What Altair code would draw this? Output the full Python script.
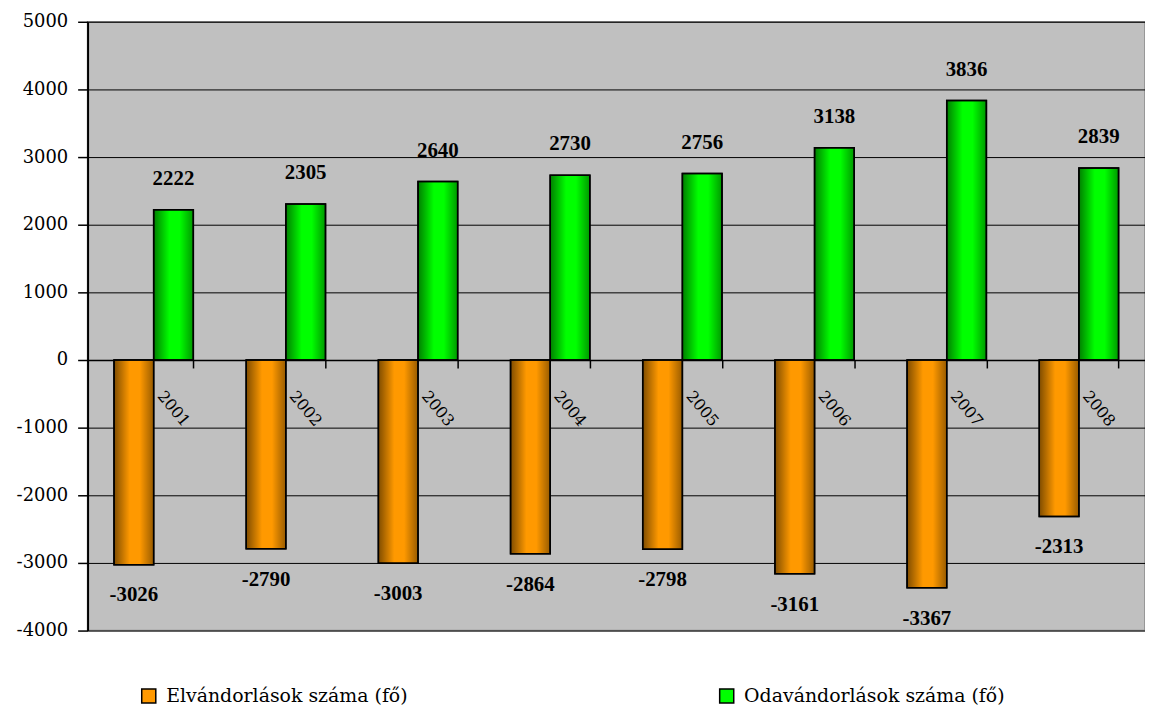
import altair as alt
import pandas as pd

years = ["2001", "2002", "2003", "2004", "2005", "2006", "2007", "2008"]
elvandorlas = [-3026, -2790, -3003, -2864, -2798, -3161, -3367, -2313]
odavandorlas = [2222, 2305, 2640, 2730, 2756, 3138, 3836, 2839]
series_names = ["Elvándorlások száma (fő)", "Odavándorlások száma (fő)"]
series_colors = ["#FF9900", "#00FF00"]
y_ticks = [-4000, -3000, -2000, -1000, 0, 1000, 2000, 3000, 4000, 5000]

rows = []
for i, yr in enumerate(years):
    rows.append({"year": yr, "series": series_names[0], "value": elvandorlas[i]})
    rows.append({"year": yr, "series": series_names[1], "value": odavandorlas[i]})
df = pd.DataFrame(rows)

x_enc = alt.X(
    "year:N",
    sort=years,
    scale=alt.Scale(paddingInner=0.4, paddingOuter=0.2),
    axis=alt.Axis(labels=False, title=None, tickBand="extent", ticks=True, tickSize=8,
                  tickColor="black", tickWidth=1.5, domainColor="black", domainWidth=1.5,
                  offset=-272, grid=False),
)
xoff = alt.XOffset("series:N", sort=series_names, scale=alt.Scale(paddingInner=0, paddingOuter=0))
y_enc = alt.Y(
    "value:Q",
    scale=alt.Scale(domain=[-4000, 5000], nice=False, zero=True),
    axis=alt.Axis(values=y_ticks, title=None, labelExpr="'' + datum.value",
                  labelFont="DejaVu Serif", labelFontSize=18,
                  labelColor="black", labelPadding=10, tickSize=10, tickColor="black",
                  tickWidth=1.5, domainColor="black", domainWidth=2, gridColor="black",
                  gridWidth=1),
)

base = alt.Chart(df).transform_calculate(label="'' + datum.value")

bars = base.mark_bar(stroke="black", strokeWidth=1.5).encode(
    x=x_enc,
    xOffset=xoff,
    y=y_enc,
    color=alt.Color(
        "series:N",
        sort=series_names,
        scale=alt.Scale(domain=series_names, range=series_colors),
        legend=alt.Legend(
            title=None, orient="none", legendX=52, legendY=668, direction="horizontal",
            columns=2, columnPadding=310, symbolType="square", symbolSize=200,
            symbolStrokeColor="black", symbolStrokeWidth=1.5, labelFont="DejaVu Serif",
            labelFontSize=19, labelColor="black", labelOffset=8, labelLimit=400,
        ),
    ),
)

shade = base.mark_bar(
    fill=alt.Gradient(
        gradient="linear", x1=0, x2=1, y1=0, y2=0,
        stops=[
            alt.GradientStop(color="rgba(0,0,0,0.5)", offset=0),
            alt.GradientStop(color="rgba(0,0,0,0.0)", offset=0.4),
            alt.GradientStop(color="rgba(0,0,0,0.0)", offset=0.65),
            alt.GradientStop(color="rgba(0,0,0,0.4)", offset=1),
        ],
    ),
    stroke="black", strokeWidth=1.5,
).encode(x=x_enc, xOffset=xoff, y=alt.Y("value:Q"))

pos_labels = base.transform_filter(alt.datum.value > 0).mark_text(
    font="Liberation Serif", fontSize=21, fontWeight="bold", color="black",
    dy=-31, baseline="middle", align="center",
).encode(x=x_enc, xOffset=xoff, y=alt.Y("value:Q"), text="label:N")

neg_labels = base.transform_filter(alt.datum.value < 0).mark_text(
    font="Liberation Serif", fontSize=21, fontWeight="bold", color="black",
    dy=31, baseline="middle", align="center",
).encode(x=x_enc, xOffset=xoff, y=alt.Y("value:Q"), text="label:N")

year_labels = base.transform_filter(alt.datum.value > 0).mark_text(
    font="DejaVu Serif", fontSize=16, color="black", angle=50,
    baseline="middle", align="center",
).encode(x=x_enc, xOffset=xoff, y=alt.datum(-720), text="year:N")

chart = alt.layer(bars, shade, pos_labels, neg_labels, year_labels).properties(
    width=1063, height=612,
    autosize=alt.AutoSizeParams(type="none"),
    padding={"left": 80, "top": 12, "right": 0, "bottom": 80},
).configure_view(fill="#C0C0C0", stroke="#8a8a8a", strokeWidth=1.5)

chart.save("out.html", embed_options={"renderer": "svg", "actions": False})
